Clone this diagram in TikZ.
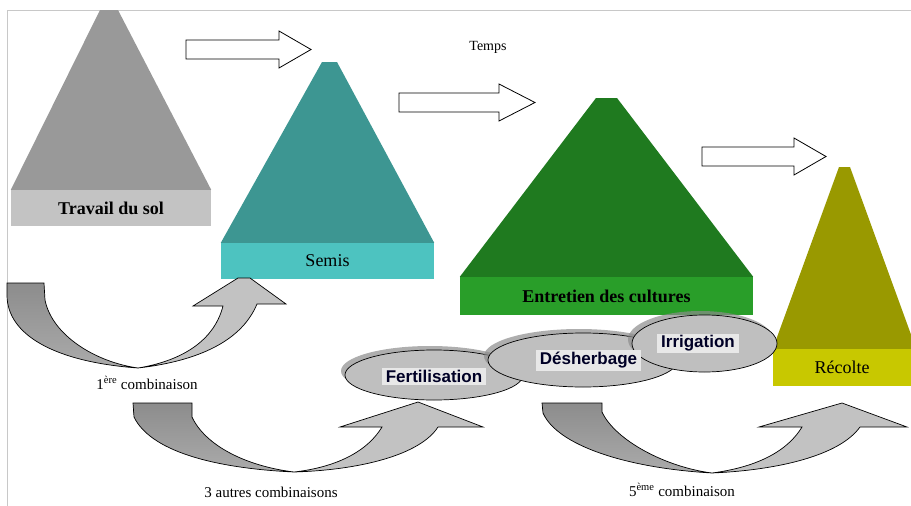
\documentclass[tikz,border=0pt]{standalone}
\usepackage{fontspec}
\setmainfont{Liberation Serif}
\setsansfont{Liberation Sans}
\usetikzlibrary{shapes.geometric,shadows}

\definecolor{solgray}{HTML}{999999}
\definecolor{solband}{HTML}{C3C3C3}
\definecolor{semisteal}{HTML}{3D9692}
\definecolor{semisband}{HTML}{4DC3C0}
\definecolor{entgreen}{HTML}{1F7A1F}
\definecolor{entband}{HTML}{299E29}
\definecolor{recolive}{HTML}{999900}
\definecolor{recband}{HTML}{C8C800}
\definecolor{framegray}{HTML}{C8C8C8}

\tikzset{
  band/.style={minimum height=36pt, inner sep=0pt, font=\fontsize{18}{20}\selectfont},
  timearrow/.style={draw=black, fill=white, line width=0.8pt},
  combileft/.style={draw=black, line width=0.7pt, top color=black!45, bottom color=black!33},
  combiright/.style={draw=black, line width=0.7pt, fill=black!24},
  opnode/.style={ellipse, draw=black, fill=black!25, line width=0.7pt, inner sep=0pt,
    drop shadow={shadow xshift=-4pt, shadow yshift=4pt, fill=black!45, opacity=0.7}},
  oplabel/.style={fill=black!9, inner xsep=4pt, inner ysep=2pt,
    font=\sffamily\bfseries\fontsize{17}{19}\selectfont, text=black!85!blue},
  combitext/.style={font=\fontsize{15}{17}\selectfont}
}

\begin{document}
\begin{tikzpicture}[x=1pt, y=-1pt]
\useasboundingbox (0,0) rectangle (911,506);
\clip (0,0) rectangle (911,506);

% frame
\draw[framegray, line width=1pt] (7,506) -- (7,10) -- (911,10);

% Pyramids
\node[band, fill=solband, minimum width=200pt] (sol) at (111,208) {\bfseries Travail du sol};
\fill[solgray] (sol.north west) -- (100,10) -- (118,10) -- (sol.north east) -- cycle;

\node[band, fill=semisband, minimum width=213pt] (semis) at (327.5,261) {Semis};
\fill[semisteal] (semis.north west) -- (322,62) -- (337,62) -- (semis.north east) -- cycle;

\node[band, fill=entband, minimum width=293pt, minimum height=38pt] (ent) at (606.5,296) {\bfseries Entretien des cultures};
\fill[entgreen] (ent.north west) -- (596,98) -- (617,98) -- (ent.north east) -- cycle;

\node[band, fill=recband, minimum width=143pt, minimum height=37pt] (rec) at (844.5,367.5) {\hspace*{-5pt}Récolte};
\fill[recolive] (rec.north west) -- (839,167) -- (850,167) -- (rec.north east) -- cycle;

% Time arrows
\node[font=\fontsize{14}{16}\selectfont] (temps) at (488,47) {Temps};
\foreach \x/\y/\len/\hd in {186/49.5/93/32, 399/102.5/100/36, 702/156.5/92/32}
  \draw[timearrow] (\x,\y-9.5) -- ++(\len,0) -- ++(0,-9) -- ++(\hd,18.5)
    -- ++(-\hd,18.5) -- ++(0,-9) -- ++(-\len,0) -- cycle;

% Combination arrows
\draw[combileft] (7,283) -- (7,295) .. controls (7,335) and (55,362) .. (138,368)
  .. controls (95,362) and (52,335) .. (45,300) -- (44,283) -- cycle;
\draw[combiright] (138,368) .. controls (190,362) and (240,345) .. (257,304)
  -- (286,304) -- (250,278) -- (238,278) -- (193,306) -- (223,306)
  .. controls (213,345) and (175,362) .. (138,368) -- cycle;

\draw[combileft] (133,403) -- (134,417) .. controls (150,450) and (210,468) .. (294,472)
  .. controls (245,466) and (205,445) .. (192,417) -- (192,403) -- cycle;
\draw[combiright] (294,472) .. controls (360,470) and (420,455) .. (438,427)
  -- (483,427) -- (418,402) -- (340,427) -- (382,427)
  .. controls (365,455) and (330,468) .. (294,472) -- cycle;

\draw[combileft] (542,403) -- (543,413) .. controls (557,445) and (625,468) .. (712,473)
  .. controls (665,467) and (615,440) .. (602,412) -- (602,403) -- cycle;
\draw[combiright] (712,473) .. controls (780,470) and (840,455) .. (860,427)
  -- (907,427) -- (842,403) -- (759,427) -- (802,427)
  .. controls (785,455) and (750,468) .. (712,473) -- cycle;

% Operations
\node[opnode, minimum width=178pt, minimum height=50pt] (fert) at (434,375) {};
\node[opnode, minimum width=190pt, minimum height=54pt] (desh) at (583,360) {};
\node[opnode, minimum width=145pt, minimum height=57pt] (irrig) at (704.5,343.5) {};
\node[oplabel] (fertlab) at (434,376.5) {Fertilisation};
\node[oplabel] (deshlab) at (588.5,360.5) {Désherbage};
\node[oplabel] (irriglab) at (698,343.5) {Irrigation};

% Combination labels
\node[combitext] (c1) at (147,383) {1\textsuperscript{ère} combinaison};
\node[combitext] (c3) at (271,492) {3 autres combinaisons};
\node[combitext] (c5) at (682,490) {5\textsuperscript{ème} combinaison};

\end{tikzpicture}
\end{document}
